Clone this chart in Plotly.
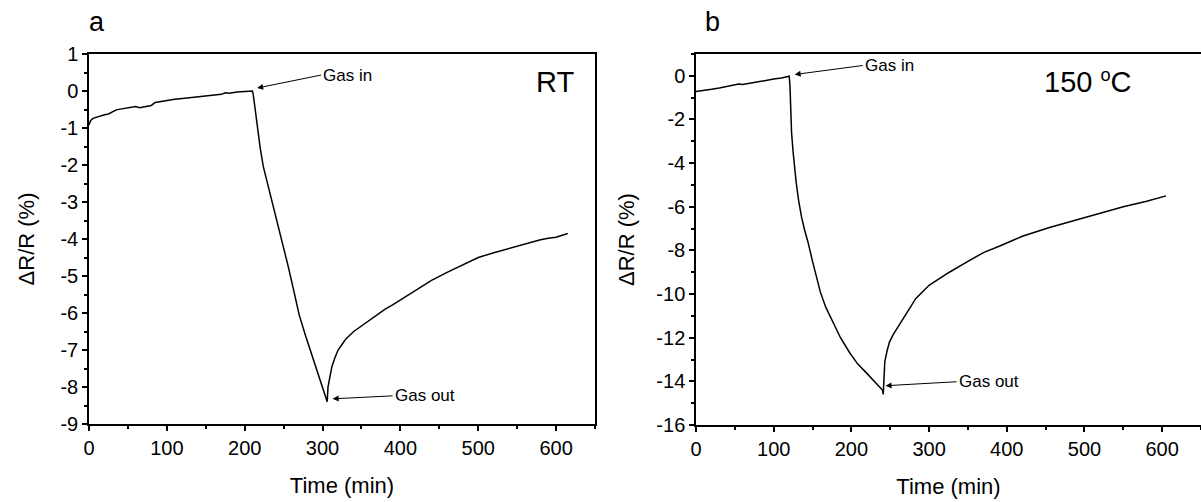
import plotly.graph_objects as go

# Panel a (RT)
time_a = [0, 2, 5, 10, 15, 20, 25, 30, 35, 40, 45, 50, 55, 60, 65, 70, 75, 80, 85, 90, 95, 100,
          110, 120, 130, 140, 150, 160, 170, 175, 180, 190, 200, 205, 208, 210, 211, 213, 215, 217,
          220, 224, 230, 237, 244, 250, 256, 262, 270, 278, 286, 294, 300, 306, 307, 309, 312, 316,
          320, 325, 330, 340, 350, 360, 370, 380, 390, 400, 420, 440, 460, 480, 500, 520, 540, 560,
          575, 580, 590, 600, 615]
dr_a = [-0.92, -0.80, -0.74, -0.70, -0.66, -0.64, -0.62, -0.56, -0.51, -0.49, -0.47, -0.45, -0.44,
        -0.42, -0.45, -0.43, -0.41, -0.39, -0.31, -0.29, -0.27, -0.25, -0.22, -0.20, -0.18, -0.16,
        -0.14, -0.11, -0.09, -0.05, -0.06, -0.03, -0.01, 0.01, 0.00, 0.00, -0.10, -0.45, -0.80, -1.14,
        -1.55, -2.05, -2.55, -3.10, -3.70, -4.20, -4.75, -5.30, -6.05, -6.60, -7.10, -7.60, -8.00, -8.40,
        -8.00, -7.75, -7.45, -7.20, -7.00, -6.85, -6.70, -6.50, -6.35, -6.20, -6.05, -5.90, -5.78, -5.65,
        -5.38, -5.12, -4.90, -4.70, -4.50, -4.37, -4.25, -4.13, -4.05, -4.02, -3.98, -3.95, -3.85]

# Panel b (150 oC)
time_b = [0, 5, 10, 20, 30, 40, 50, 55, 60, 70, 80, 90, 100, 110, 118, 120, 121, 121.5, 122, 123,
          125, 127, 129, 132, 136, 140, 144, 150, 155, 160, 167, 176, 186, 198, 208, 219, 230, 240,
          241, 242, 243, 246, 249, 254, 260, 270, 283, 300, 326, 350, 370, 391, 420, 455, 490, 519,
          550, 580, 605]
dr_b = [-0.72, -0.70, -0.68, -0.62, -0.56, -0.48, -0.42, -0.38, -0.40, -0.33, -0.27, -0.20, -0.15,
        -0.10, -0.04, -0.02, -0.50, -1.50, -2.00, -2.60, -3.50, -4.30, -4.90, -5.70, -6.50, -7.10,
        -7.60, -8.50, -9.20, -9.90, -10.60, -11.30, -12.00, -12.70, -13.20, -13.60, -14.00, -14.40,
        -14.60, -13.60, -13.10, -12.60, -12.20, -11.85, -11.50, -10.90, -10.20, -9.60, -9.00, -8.50,
        -8.10, -7.80, -7.35, -6.95, -6.60, -6.30, -6.00, -5.75, -5.50]

# Tick labels
x_ticks = [0, 100, 200, 300, 400, 500, 600]
x_labels = ["0", "100", "200", "300", "400", "500", "600"]
ya_ticks = [1, 0, -1, -2, -3, -4, -5, -6, -7, -8, -9]
ya_labels = ["1", "0", "-1", "-2", "-3", "-4", "-5", "-6", "-7", "-8", "-9"]
yb_ticks = [0, -2, -4, -6, -8, -10, -12, -14, -16]
yb_labels = ["0", "-2", "-4", "-6", "-8", "-10", "-12", "-14", "-16"]

FONT = "Liberation Sans, Arial, sans-serif"

fig = go.Figure()
fig.add_trace(go.Scatter(x=time_a, y=dr_a, mode="lines", line=dict(color="black", width=1.5),
                         xaxis="x", yaxis="y", showlegend=False))
fig.add_trace(go.Scatter(x=time_b, y=dr_b, mode="lines", line=dict(color="black", width=1.5),
                         xaxis="x2", yaxis="y2", showlegend=False))

def xax(domain, anchor):
    return dict(domain=domain, anchor=anchor, range=[0, 650],
                tickmode="array", tickvals=x_ticks, ticktext=x_labels,
                showline=True, linecolor="black", linewidth=1.5, mirror=True,
                ticks="outside", ticklen=5, tickwidth=1.5, tickcolor="black",
                minor=dict(ticks="outside", ticklen=3, dtick=50, tick0=0, tickwidth=1.5, tickcolor="black"),
                showgrid=False, zeroline=False, automargin=False,
                tickfont=dict(family=FONT, size=20, color="black"),
                title=dict(text="Time (min)", font=dict(family=FONT, size=22, color="black"), standoff=20))

def yax(domain, anchor, rng, tv, tt, minor, standoff, mirror=True):
    return dict(domain=domain, anchor=anchor, range=rng,
                tickmode="array", tickvals=tv, ticktext=tt,
                showline=True, linecolor="black", linewidth=1.5, mirror=mirror,
                ticks="outside", ticklen=5, tickwidth=1.5, tickcolor="black",
                minor=dict(ticks="outside", ticklen=3, dtick=minor, tick0=0, tickwidth=1.5, tickcolor="black"),
                showgrid=False, zeroline=False, automargin=False,
                tickfont=dict(family=FONT, size=20, color="black"),
                title=dict(text="ΔR/R (%)", font=dict(family=FONT, size=22, color="black"), standoff=standoff))

fig.update_layout(
    width=1201, height=502, autosize=False,
    margin=dict(l=0, r=0, t=0, b=0, pad=0),
    paper_bgcolor="white", plot_bgcolor="white",
    xaxis=xax([89 / 1201, 595 / 1201], "y"),
    yaxis=yax([(502 - 424) / 502, (502 - 54) / 502], "x", [-9, 1], ya_ticks, ya_labels, 0.5, 20),
    xaxis2=xax([696 / 1201, 1.0], "y2"),
    yaxis2=yax([(502 - 425) / 502, (502 - 54) / 502], "x2", [-16, 1], yb_ticks, yb_labels, 1, 16, mirror=False),
)

ann_font = dict(family=FONT, size=17, color="black")
arrow = dict(showarrow=True, arrowhead=2, arrowsize=1.2, arrowwidth=1, arrowcolor="black",
             xanchor="left", yanchor="middle", font=ann_font, axref="pixel", ayref="pixel")
fig.add_annotation(x=216, y=0.08, xref="x", yref="y", text="Gas in", ax=64, ay=-13, **arrow)
fig.add_annotation(x=313, y=-8.32, xref="x", yref="y", text="Gas out", ax=60, ay=-3, **arrow)
fig.add_annotation(x=127, y=0.06, xref="x2", yref="y2", text="Gas in", ax=68, ay=-9, **arrow)
fig.add_annotation(x=244, y=-14.2, xref="x2", yref="y2", text="Gas out", ax=71, ay=-4, **arrow)

fig.add_annotation(x=555 / 1201, y=(502 - 82) / 502, xref="paper", yref="paper", text="RT",
                   showarrow=False, xanchor="center", yanchor="middle",
                   font=dict(family=FONT, size=29, color="black"))
fig.add_annotation(x=1088 / 1201, y=(502 - 82) / 502, xref="paper", yref="paper",
                   text="150 <span style='font-size:26px'><sup>o</sup></span>C", showarrow=False,
                   xanchor="center", yanchor="middle",
                   font=dict(family=FONT, size=29, color="black"))
fig.add_annotation(x=97 / 1201, y=(502 - 22) / 502, xref="paper", yref="paper", text="a",
                   showarrow=False, xanchor="center", yanchor="middle",
                   font=dict(family=FONT, size=27, color="black"))
fig.add_annotation(x=712 / 1201, y=(502 - 22) / 502, xref="paper", yref="paper", text="b",
                   showarrow=False, xanchor="center", yanchor="middle",
                   font=dict(family=FONT, size=27, color="black"))

fig.write_html("out.html", config={"displayModeBar": False},
               post_script="document.body.style.margin='0';")
